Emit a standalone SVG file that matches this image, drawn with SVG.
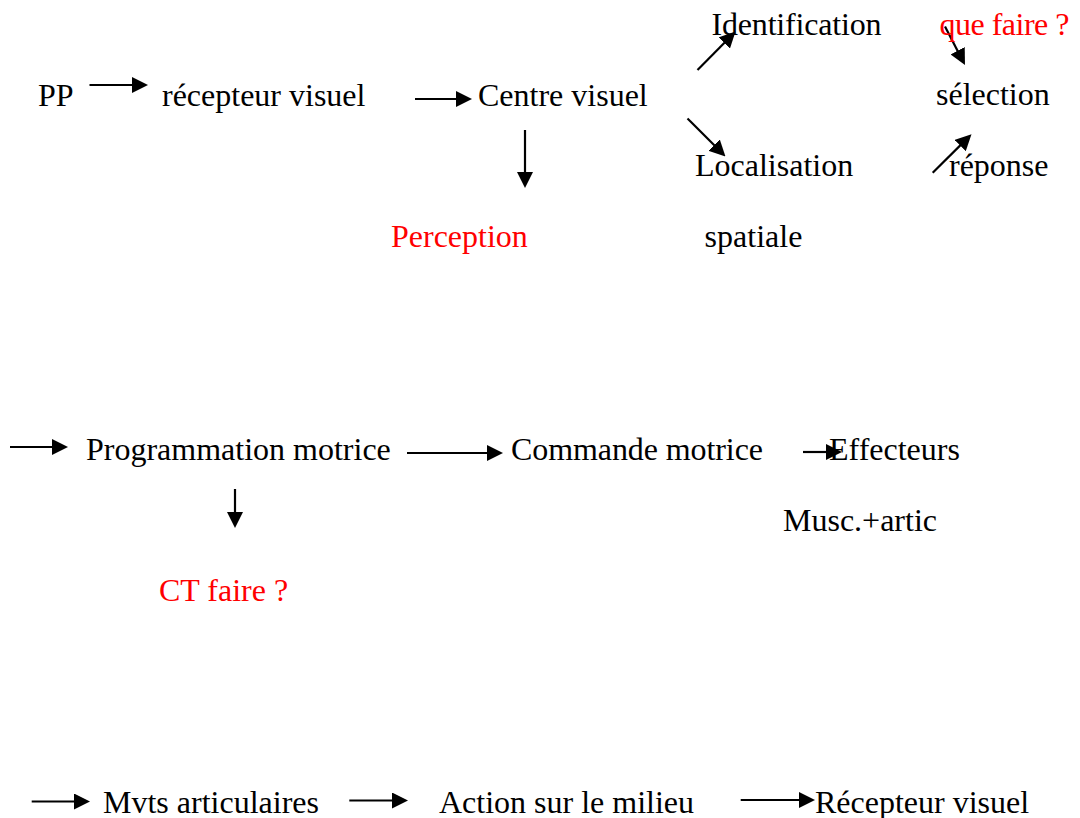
<svg xmlns="http://www.w3.org/2000/svg" width="1080" height="818" viewBox="0 0 1080 818">
<style>
text{font-family:"Liberation Serif","Times New Roman",serif;font-size:32px;fill:#000}
.red{fill:#ff0000}
.c{stroke:#000;stroke-width:2.2;fill:none;marker-end:url(#ah)}
</style>
<defs>
<marker id="ah" markerUnits="userSpaceOnUse" markerWidth="16" markerHeight="16" viewBox="0 0 16 16" refX="8" refY="8" orient="auto">
<path d="M0,0 L16,8 L0,16 Z" fill="#000"/>
</marker>
</defs>
<rect width="1080" height="818" fill="#fff"/>
<g id="connectors">
<line class="c" x1="89.5" y1="85" x2="140" y2="85"/>
<line class="c" x1="415" y1="99" x2="464" y2="99"/>
<line class="c" x1="525" y1="130" x2="525" y2="180"/>
<line class="c" x1="697.5" y1="70" x2="729.9" y2="37.2"/>
<line class="c" x1="945" y1="26.5" x2="961.3" y2="57.9"/>
<line class="c" x1="687.5" y1="118.5" x2="719.8" y2="150.8"/>
<line class="c" x1="932.7" y1="172.7" x2="965.8" y2="139.9"/>
<line class="c" x1="10" y1="447" x2="60" y2="447"/>
<line class="c" x1="407" y1="453" x2="495" y2="453"/>
<line class="c" x1="235" y1="489" x2="235" y2="520"/>
<line class="c" x1="803" y1="452" x2="834" y2="452"/>
<line class="c" x1="31.7" y1="801.5" x2="82" y2="801.5"/>
<line class="c" x1="349.3" y1="800.5" x2="400" y2="800.5"/>
<line class="c" x1="740.7" y1="800" x2="807" y2="800"/>
</g>
<g id="pp"><text x="38" y="106">PP</text></g>
<g id="recepteur"><text x="162" y="106">récepteur visuel</text></g>
<g id="centre"><text x="478" y="106">Centre visuel</text></g>
<g id="identification"><text x="711.5" y="35" textLength="170">Identification</text></g>
<g id="quefaire"><text class="red" x="939.5" y="35" textLength="130">que faire ?</text></g>
<g id="selection"><text x="936" y="105">sélection</text></g>
<g id="localisation"><text x="695" y="176">Localisation</text></g>
<g id="reponse"><text x="949" y="176">réponse</text></g>
<g id="perception"><text class="red" x="391" y="247">Perception</text></g>
<g id="spatiale"><text x="704.6" y="247">spatiale</text></g>
<g id="programmation"><text x="86" y="460">Programmation motrice</text></g>
<g id="commande"><text x="511" y="460" textLength="252">Commande motrice</text></g>
<g id="effecteurs"><text x="829" y="460">Effecteurs</text></g>
<g id="musc"><text x="783" y="531">Musc.+artic</text></g>
<g id="ctfaire"><text class="red" x="159" y="601">CT faire ?</text></g>
<g id="mvts"><text x="103" y="813">Mvts articulaires</text></g>
<g id="action"><text x="439" y="813">Action sur le milieu</text></g>
<g id="recepteur2"><text x="815" y="813">Récepteur visuel</text></g>
</svg>
